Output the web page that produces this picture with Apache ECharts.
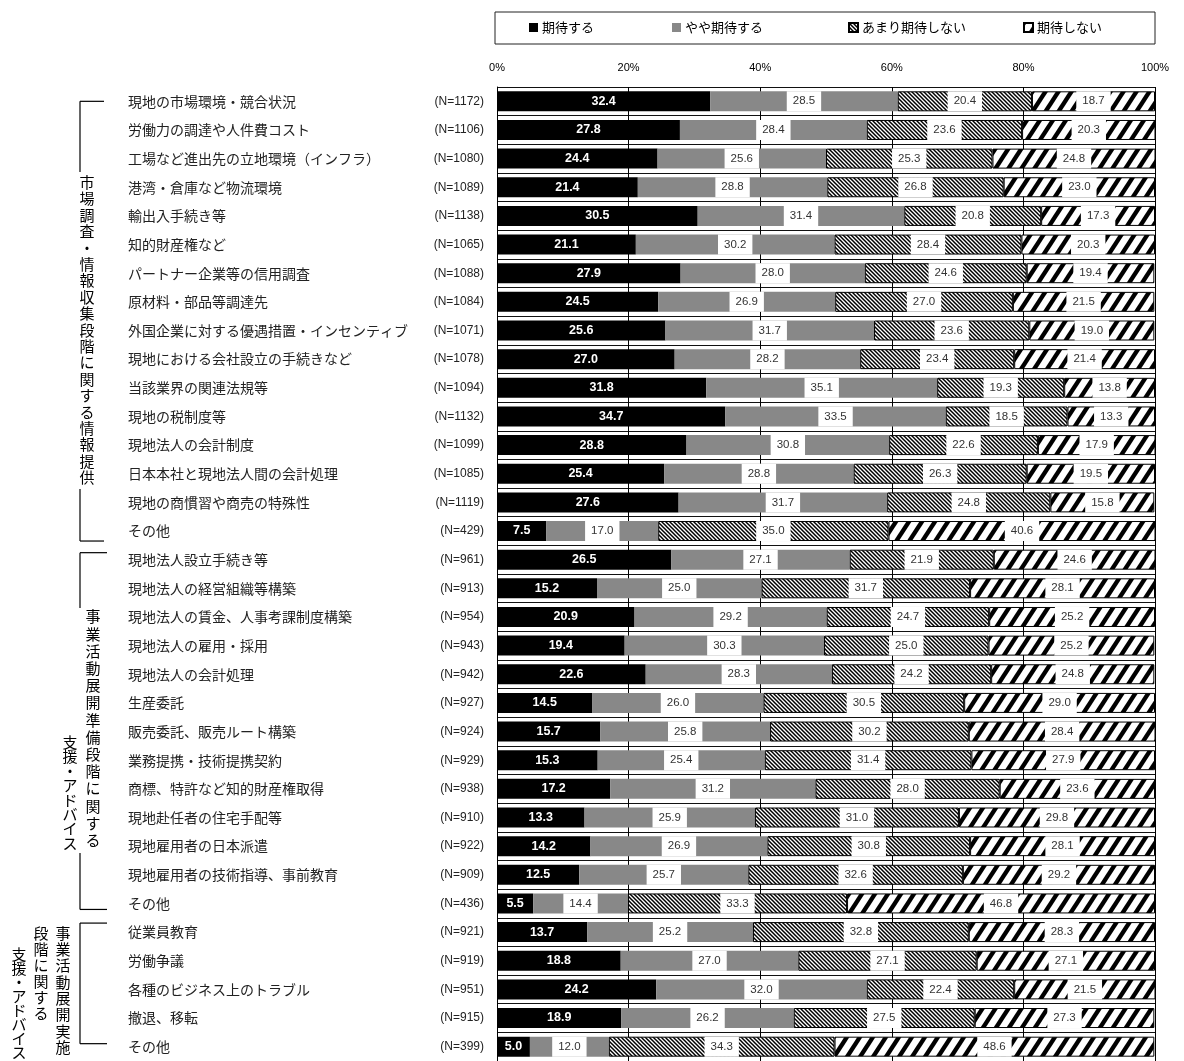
<!DOCTYPE html>
<html>
<head>
<meta charset="utf-8">
<script src="https://cdn.jsdelivr.net/npm/echarts@6/dist/echarts.min.js"></script>
<style>
html,body{margin:0;padding:0;background:#fff;}
#chart{width:1184px;height:1061px;}
</style>
</head>
<body>
<div id="chart"></div>
<script>
// ---------------- data ----------------
const categories = [
  '現地の市場環境・競合状況','労働力の調達や人件費コスト','工場など進出先の立地環境（インフラ）','港湾・倉庫など物流環境',
  '輸出入手続き等','知的財産権など','パートナー企業等の信用調査','原材料・部品等調達先',
  '外国企業に対する優遇措置・インセンティブ','現地における会社設立の手続きなど','当該業界の関連法規等','現地の税制度等',
  '現地法人の会計制度','日本本社と現地法人間の会計処理','現地の商慣習や商売の特殊性','その他',
  '現地法人設立手続き等','現地法人の経営組織等構築','現地法人の賃金、人事考課制度構築','現地法人の雇用・採用',
  '現地法人の会計処理','生産委託','販売委託、販売ルート構築','業務提携・技術提携契約',
  '商標、特許など知的財産権取得','現地赴任者の住宅手配等','現地雇用者の日本派遣','現地雇用者の技術指導、事前教育','その他',
  '従業員教育','労働争議','各種のビジネス上のトラブル','撤退、移転','その他'
];
const nCounts = [1172,1106,1080,1089,1138,1065,1088,1084,1071,1078,1094,1132,1099,1085,1119,429,
  961,913,954,943,942,927,924,929,938,910,922,909,436,
  921,919,951,915,399];
const seriesNames = ['期待する','やや期待する','あまり期待しない','期待しない'];
const expectVals   = [32.4,27.8,24.4,21.4,30.5,21.1,27.9,24.5,25.6,27.0,31.8,34.7,28.8,25.4,27.6,7.5,
  26.5,15.2,20.9,19.4,22.6,14.5,15.7,15.3,17.2,13.3,14.2,12.5,5.5,
  13.7,18.8,24.2,18.9,5.0];
const somewhatVals = [28.5,28.4,25.6,28.8,31.4,30.2,28.0,26.9,31.7,28.2,35.1,33.5,30.8,28.8,31.7,17.0,
  27.1,25.0,29.2,30.3,28.3,26.0,25.8,25.4,31.2,25.9,26.9,25.7,14.4,
  25.2,27.0,32.0,26.2,12.0];
const notMuchVals  = [20.4,23.6,25.3,26.8,20.8,28.4,24.6,27.0,23.6,23.4,19.3,18.5,22.6,26.3,24.8,35.0,
  21.9,31.7,24.7,25.0,24.2,30.5,30.2,31.4,28.0,31.0,30.8,32.6,33.3,
  32.8,27.1,22.4,27.5,34.3];
const notAtAllVals = [18.7,20.3,24.8,23.0,17.3,20.3,19.4,21.5,19.0,21.4,13.8,13.3,17.9,19.5,15.8,40.6,
  24.6,28.1,25.2,25.2,24.8,29.0,28.4,27.9,23.6,29.8,28.1,29.2,46.8,
  28.3,27.1,21.5,27.3,48.6];
const xTickValues = [0,20,40,60,80,100];
const groupTitles = [
  ['市場調査・情報収集段階に関する情報提供'],
  ['事業活動展開準備段階に関する','支援・アドバイス'],
  ['事業活動展開実施','段階に関する','支援・アドバイス']
];
const groupRanges = [[0,15],[16,28],[29,33]];

// ---------------- styling helpers ----------------
const JP = '"Noto Sans CJK JP", "Noto Sans", sans-serif';
const NARROW = '"Liberation Sans Narrow", "Arial Narrow", "Liberation Sans", sans-serif';

function makePattern(w, h, draw) {
  const c = document.createElement('canvas');
  c.width = w; c.height = h;
  const ctx = c.getContext('2d');
  ctx.fillStyle = '#fff';
  ctx.fillRect(0, 0, w, h);
  draw(ctx, w, h);
  return { image: c, repeat: 'repeat' };
}
// thin back-slash hatch (lines extended past the tile so the seams are clean)
const hatchThin = makePattern(4, 4, (ctx, w, h) => {
  ctx.strokeStyle = '#000'; ctx.lineWidth = 1.5;
  for (let k = -2; k <= 2; k++) {
    ctx.beginPath(); ctx.moveTo(k * w - w, -h); ctx.lineTo(k * w + 2 * w, 2 * h); ctx.stroke();
  }
});
// thick forward-slash hatch
const hatchThick = makePattern(13, 20, (ctx, w, h) => {
  ctx.strokeStyle = '#000'; ctx.lineWidth = 4.3;
  for (let k = -2; k <= 2; k++) {
    ctx.beginPath(); ctx.moveTo(k * w - w, 2 * h); ctx.lineTo(k * w + 2 * w, -h); ctx.stroke();
  }
});

const otherLabel = {
  show: true, position: 'inside', color: '#333', fontSize: 11.5, fontFamily: NARROW,
  backgroundColor: '#fff', padding: [4, 6],
  formatter: p => p.value.toFixed(1)
};

const chart = echarts.init(document.getElementById('chart'), null, { renderer: 'canvas' });

const legendLefts = [529, 672, 848, 1023];

const option = {
  backgroundColor: '#fff',
  animation: false,
  grid: { left: 497, width: 658, top: 87, height: 981 },
  legend: seriesNames.map((name, i) => ({
    data: [name], left: legendLefts[i], top: 21, icon: 'rect',
    itemWidth: 9, itemHeight: 9, itemGap: 0, padding: 0,
    textStyle: { fontSize: 13, color: '#000', fontFamily: JP, padding: [0, 0, 0, -1] }
  })),
  xAxis: {
    type: 'value', position: 'top', min: 0, max: 100, interval: 20,
    axisLine: { show: false }, axisTick: { show: false },
    axisLabel: {
      margin: 14, fontSize: 11, color: '#000', fontFamily: NARROW,
      customValues: xTickValues, formatter: v => v + '%'
    },
    splitLine: { show: true, lineStyle: { color: '#000', width: 1 } }
  },
  yAxis: {
    type: 'category', inverse: true, data: categories,
    axisLine: { show: true, lineStyle: { color: '#000', width: 1 } },
    axisTick: { show: false },
    splitLine: { show: true, interval: 0, lineStyle: { color: '#111', width: 1 } },
    axisLabel: {
      interval: 0, align: 'left', margin: 369,
      formatter: (v, i) => '{a|' + v + '}{n|(N=' + nCounts[i] + ')}',
      rich: {
        a: { width: 298, align: 'left', fontSize: 14, color: '#222', fontFamily: JP },
        n: { width: 58, align: 'right', fontSize: 12, color: '#222', fontFamily: NARROW }
      }
    }
  },
  series: [
    {
      name: seriesNames[0], type: 'bar', stack: 'total', barWidth: 20, data: expectVals,
      itemStyle: { color: '#000' },
      label: { show: true, position: 'inside', color: '#fff', fontWeight: 'bold', fontSize: 12.5,
        fontFamily: NARROW, formatter: p => p.value.toFixed(1) }
    },
    {
      name: seriesNames[1], type: 'bar', stack: 'total', barWidth: 20, data: somewhatVals,
      itemStyle: { color: '#888' }, label: otherLabel
    },
    {
      name: seriesNames[2], type: 'bar', stack: 'total', barWidth: 20, data: notMuchVals,
      itemStyle: { color: hatchThin, borderColor: '#000', borderWidth: 1 }, label: otherLabel
    },
    {
      name: seriesNames[3], type: 'bar', stack: 'total', barWidth: 20, data: notAtAllVals,
      itemStyle: { color: hatchThick, borderColor: '#000', borderWidth: 1 }, label: otherLabel
    }
  ]
};
chart.setOption(option);

// ---------------- annotations: legend box, group brackets, vertical titles ----------------
const rowY = i => chart.convertToPixel({ yAxisIndex: 0 }, i);
const bracketLayout = [
  { x: 80, arm: 104, dTop: 0, dBot: 10, gap: [172, 489] },
  { x: 80, arm: 107, dTop: -7, dBot: 6, gap: [608, 853] },
  { x: 80, arm: 107, dTop: -9, dBot: -3, gap: null }
];
const titleLayout = [
  [{ x: 87, top: 174, lh: 16.4 }],
  [{ x: 93, top: 608, lh: 17.2 }, { x: 70, top: 735, lh: 14.4 }],
  [{ x: 63, top: 925, lh: 16.3 }, { x: 41, top: 925, lh: 16.0 }, { x: 19, top: 947, lh: 14.0 }]
];

const graphics = [{
  type: 'rect', shape: { x: 495, y: 12, width: 660, height: 32 },
  style: { fill: 'none', stroke: '#222', lineWidth: 1 }, silent: true
}];
groupRanges.forEach((rg, g) => {
  const L = bracketLayout[g];
  const yT = rowY(rg[0]) + L.dTop;
  const yB = rowY(rg[1]) + L.dBot;
  const segs = L.gap ? [[yT, L.gap[0]], [L.gap[1], yB]] : [[yT, yB]];
  graphics.push({ type: 'line', shape: { x1: L.x, y1: yT, x2: L.arm, y2: yT }, style: { stroke: '#000', lineWidth: 1.2 }, silent: true });
  graphics.push({ type: 'line', shape: { x1: L.x, y1: yB, x2: L.arm, y2: yB }, style: { stroke: '#000', lineWidth: 1.2 }, silent: true });
  segs.forEach(s => graphics.push({ type: 'line', shape: { x1: L.x, y1: s[0], x2: L.x, y2: s[1] }, style: { stroke: '#000', lineWidth: 1.2 }, silent: true }));
  groupTitles[g].forEach((t, c) => {
    const T = titleLayout[g][c];
    graphics.push({
      type: 'text', x: T.x, y: T.top, silent: true,
      style: { text: Array.from(t).join('\n'), fill: '#000', fontSize: 15, fontFamily: JP,
        lineHeight: T.lh, align: 'center', verticalAlign: 'top', textAlign: 'center', textVerticalAlign: 'top' }
    });
  });
});
chart.setOption({ graphic: graphics });
</script>
</body>
</html>
